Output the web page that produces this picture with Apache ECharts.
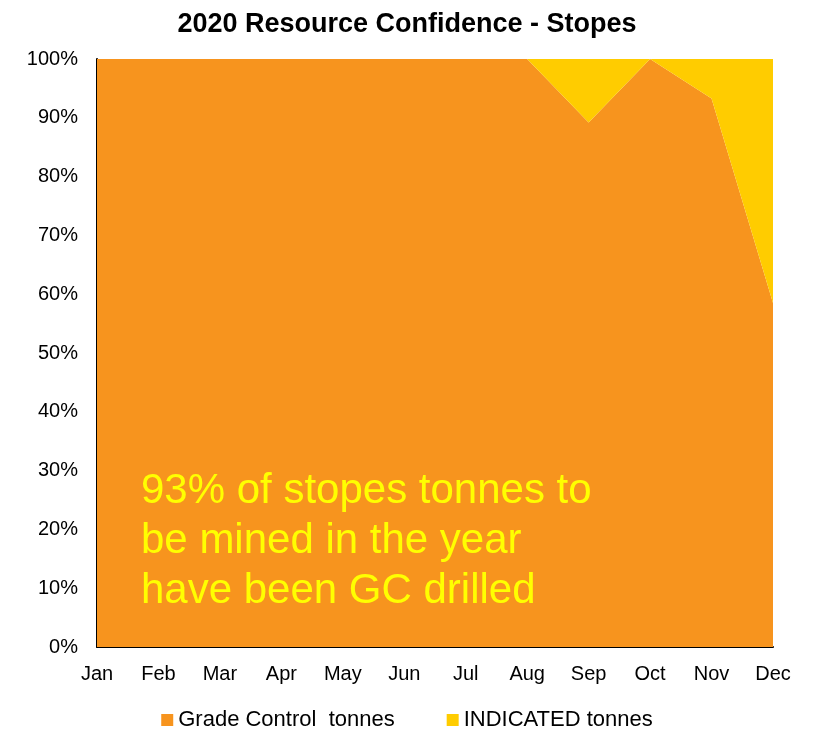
<!DOCTYPE html>
<html>
<head>
<meta charset="utf-8">
<script src="https://cdn.jsdelivr.net/npm/echarts@6/dist/echarts.min.js"></script>
<style>html,body{margin:0;padding:0;background:#fff;}#c{width:814px;height:731px;}</style>
</head>
<body>
<div id="c"></div>
<script>
const months = ['Jan','Feb','Mar','Apr','May','Jun','Jul','Aug','Sep','Oct','Nov','Dec'];
const gradeControl = [100,100,100,100,100,100,100,100,89.2,100,93.3,58.5];
const indicated = [0,0,0,0,0,0,0,0,10.8,0,6.7,41.5];
const seriesNames = ['Grade Control  tonnes','INDICATED tonnes'];
const annotation = '93% of stopes tonnes to\nbe mined in the year\nhave been GC drilled';

const chart = echarts.init(document.getElementById('c'), null, {renderer:'canvas'});
const font = 'Liberation Sans, Arial, sans-serif';
chart.setOption({
  animation:false,
  backgroundColor:'#fff',
  title:{text:'2020 Resource Confidence - Stopes',left:'center',top:6,
    textStyle:{fontFamily:font,fontSize:27,fontWeight:'bold',color:'#000'}},
  grid:{left:97,right:41,top:59,bottom:84,containLabel:false},
  legend:{top:704,left:'center',itemWidth:12,itemHeight:12,itemGap:52,icon:'rect',
    textStyle:{fontFamily:font,fontSize:22,color:'#000'},data:seriesNames},
  xAxis:{type:'category',data:months,boundaryGap:false,
    axisLine:{lineStyle:{color:'#000',width:2}},axisTick:{show:false},
    axisLabel:{fontFamily:font,fontSize:20,color:'#000',margin:17}},
  yAxis:{type:'value',min:0,max:100,interval:10,
    axisLine:{show:true,lineStyle:{color:'#000',width:2}},axisTick:{show:false},splitLine:{show:false},
    axisLabel:{formatter:'{value}%',fontFamily:font,fontSize:20,color:'#000',margin:19}},
  graphic:[{type:'text',left:141,top:466,z:100,
    style:{text:annotation,fill:'#FFFF00',font:'42px Liberation Sans, Arial, sans-serif',lineHeight:50}}],
  series:[
    {name:seriesNames[0],type:'line',stack:'t',data:gradeControl,symbol:'none',
      lineStyle:{width:0},areaStyle:{color:'#F7941E',opacity:1},itemStyle:{color:'#F7941E'}},
    {name:seriesNames[1],type:'line',stack:'t',data:indicated,symbol:'none',
      lineStyle:{width:0},areaStyle:{color:'#FFCC00',opacity:1},itemStyle:{color:'#FFCC00'}}
  ]
});
</script>
</body>
</html>
